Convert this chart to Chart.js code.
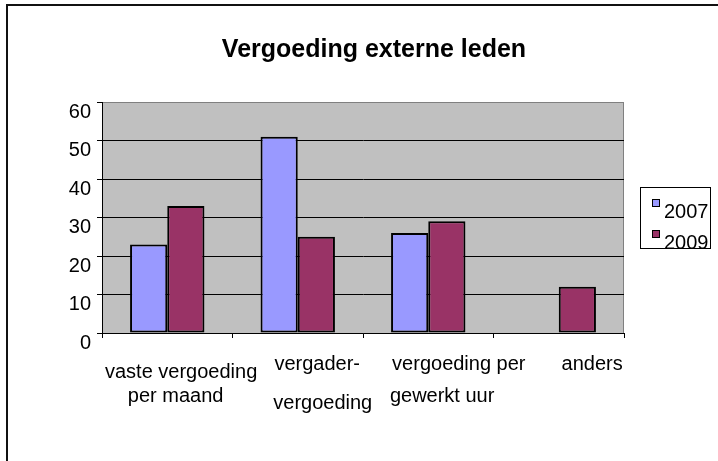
<!DOCTYPE html>
<html>
<head>
<meta charset="utf-8">
<title>Vergoeding externe leden</title>
<script src="https://cdn.jsdelivr.net/npm/chart.js@4.4.1/dist/chart.umd.min.js"></script>
<style>
  html, body { margin: 0; padding: 0; background: #fff; }
  #wrap { position: relative; width: 718px; height: 461px; overflow: hidden; }
  #chart { display: block; }
  /* the old Excel frame: only top and left edges are visible */
  #frame { position: absolute; left: 6px; top: 4px; right: -4px; bottom: -4px;
           border-top: 2px solid #111; border-left: 2px solid #111; pointer-events: none; }
</style>
</head>
<body>
<div id="wrap">
  <canvas id="chart" width="718" height="461"></canvas>
  <div id="frame"></div>
</div>
<script>
// data
const chartTitle = 'Vergoeding externe leden';
const categories = [
  ['', 'vaste vergoeding', '', '', 'per maand'],
  ['vergader-', '', '', '', '', 'vergoeding'],
  ['vergoeding per', '', '', '', 'gewerkt uur'],
  ['anders']
];
const seriesNames = ['2007', '2009'];
const values2007 = [23, 51, 26, null];
const values2009 = [33, 25, 29, 12];
const yTicks = [0, 10, 20, 30, 40, 50, 60];

const FONT = 'Arial, "Liberation Sans", sans-serif';
Chart.defaults.font.family = FONT;
Chart.defaults.color = '#000';

// leading spaces per label line, the labels in the original sit off-centre
const labelIndent = [[0, 5, 0, 0, 3], [7, 0, 0, 0, 0, 9], [11, 0, 0, 0, 5], [12]];

// grey plot area with a grey top/right border
const plotArea = {
  id: 'plotArea',
  beforeDraw(chart) {
    const { ctx, chartArea: a } = chart;
    ctx.save();
    ctx.fillStyle = '#C0C0C0';
    ctx.fillRect(a.left, a.top, a.right - a.left, a.bottom - a.top);
    ctx.strokeStyle = '#808080';
    ctx.lineWidth = 1;
    ctx.beginPath();
    ctx.moveTo(a.left, a.top + 0.5);
    ctx.lineTo(a.right - 0.5, a.top + 0.5);
    ctx.lineTo(a.right - 0.5, a.bottom);
    ctx.stroke();
    ctx.restore();
  }
};

// title and the small boxed legend on the right
const titleAndLegend = {
  id: 'titleAndLegend',
  afterDraw(chart) {
    const ctx = chart.ctx;
    ctx.save();
    ctx.fillStyle = '#000';
    ctx.font = 'bold 25px ' + FONT;
    ctx.textAlign = 'center';
    ctx.textBaseline = 'middle';
    ctx.fillText(chartTitle, 374, 50);

    ctx.strokeStyle = '#000';
    ctx.lineWidth = 1;
    ctx.strokeRect(640.5, 187.5, 70, 61);
    ctx.font = '20px ' + FONT;
    ctx.textAlign = 'left';
    chart.data.datasets.forEach((ds, i) => {
      const y = 199 + i * 31;
      ctx.fillStyle = ds.backgroundColor;
      ctx.fillRect(652, y, 7, 7);
      ctx.strokeRect(652.5, y + 0.5, 7, 7);
      ctx.fillStyle = '#000';
      ctx.fillText(ds.label, 664, y + 13);
    });
    ctx.restore();
  }
};

new Chart(document.getElementById('chart'), {
  type: 'bar',
  data: {
    labels: categories,
    datasets: [
      {
        label: seriesNames[0],
        data: values2007,
        backgroundColor: '#9999FF',
        borderColor: '#000',
        borderWidth: 2,
        borderSkipped: false,
        categoryPercentage: 0.57,
        barPercentage: 1
      },
      {
        label: seriesNames[1],
        data: values2009,
        backgroundColor: '#993366',
        borderColor: '#000',
        borderWidth: 2,
        borderSkipped: false,
        categoryPercentage: 0.57,
        barPercentage: 1
      }
    ]
  },
  options: {
    responsive: false,
    animation: false,
    devicePixelRatio: 1,
    layout: { padding: { top: 102, left: 0, right: 94, bottom: 0 } },
    plugins: {
      legend: { display: false },
      title: { display: false },
      tooltip: { enabled: false }
    },
    scales: {
      x: {
        grid: { drawOnChartArea: false, drawTicks: true, tickLength: 5, color: '#000', offset: true },
        border: { color: '#000', width: 1 },
        ticks: {
          autoSkip: false,
          maxRotation: 0,
          minRotation: 0,
          padding: 23,
          color: '#000',
          font: { size: 20, lineHeight: '7.8px' },
          callback: (value, index) =>
            categories[index].map((line, j) => ' '.repeat(labelIndent[index][j] || 0) + line)
        },
        afterFit(scale) { scale.height = 128; }
      },
      y: {
        min: yTicks[0],
        max: yTicks[yTicks.length - 1],
        ticks: {
          stepSize: yTicks[1] - yTicks[0],
          color: '#000',
          font: { size: 20 },
          padding: 6,
          labelOffset: 10
        },
        grid: {
          color: c => (c.tick && c.tick.value === yTicks[yTicks.length - 1]) ? '#808080' : '#000',
          tickColor: '#000',
          tickLength: 5
        },
        border: { color: '#000', width: 1 },
        afterFit(scale) { scale.width = 102; }
      }
    }
  },
  plugins: [plotArea, titleAndLegend]
});
</script>
</body>
</html>
